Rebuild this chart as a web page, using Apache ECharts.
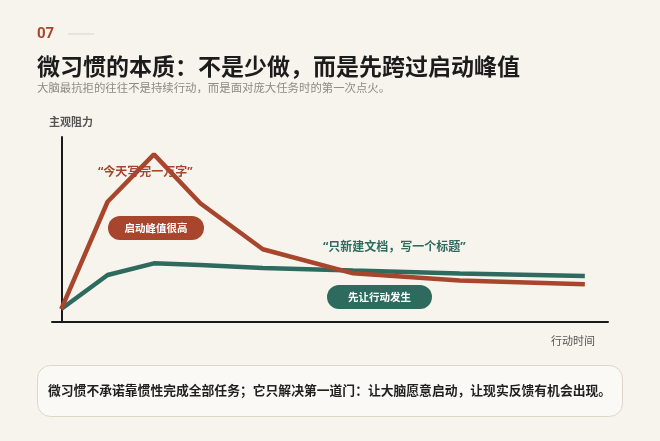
<!DOCTYPE html>
<html>
<head>
<meta charset="utf-8">
<script src="https://cdn.jsdelivr.net/npm/echarts@6/dist/echarts.min.js"></script>
<style>
html,body{margin:0;padding:0;background:#F7F4EE;}
#c{width:660px;height:441px;}
</style>
</head>
<body>
<div id="c"></div>
<script>
// action time positions (value axis)
var timePoints = [0, 1, 2, 3, 4.35, 6.3, 8.6, 11.3];
// subjective resistance: big task
var bigTask = [7, 65, 90.6, 64.2, 39.3, 26.3, 22.4, 20.4];
// subjective resistance: micro habit
var microHabit = [7, 25.4, 31.7, 30.8, 29.2, 27.8, 26.2, 24.9];

var RED = '#A8452D', GREEN = '#2E6A5E';
var CJK = "'Noto Sans CJK SC', 'Noto Sans', sans-serif";
var QUOTE = "'Noto Sans', 'Noto Sans CJK SC', sans-serif";

function pairs(xs, ys){ return xs.map(function(x,i){ return [x, ys[i]]; }); }

var chart = echarts.init(document.getElementById('c'), null, {renderer:'canvas'});
chart.setOption({
  backgroundColor: '#F7F4EE',
  animation: false,
  grid: {left: 52, top: 137, width: 556, height: 185},
  xAxis: {
    type: 'value', min: -0.2, max: 11.8,
    axisLine: {show: true, onZero: false, lineStyle: {color: '#1A1A1A', width: 2}},
    axisTick: {show: false}, axisLabel: {show: false}, splitLine: {show: false}
  },
  yAxis: {
    type: 'value', min: 0, max: 100,
    axisLine: {show: true, lineStyle: {color: '#1A1A1A', width: 2}},
    axisTick: {show: false}, axisLabel: {show: false}, splitLine: {show: false}
  },
  series: [
    {type: 'line', data: pairs(timePoints, microHabit), symbol: 'none', smooth: false,
     lineStyle: {color: GREEN, width: 4.5}, z: 2},
    {type: 'line', data: pairs(timePoints, bigTask), symbol: 'none', smooth: false,
     lineStyle: {color: RED, width: 4.5}, z: 3}
  ],
  graphic: [
    {type: 'text', left: 37, top: 27, style: {text: '07', fill: '#A8452D', font: "bold 15px Roboto, 'Noto Sans', sans-serif"}},
    {type: 'line', shape: {x1: 68, y1: 34, x2: 94, y2: 34}, style: {stroke: '#D9D3C8', lineWidth: 1}},
    {type: 'text', x: 37, y: 66, style: {text: '微习惯的本质：不是少做，而是先跨过启动峰值', fill: '#1C1C1C', font: "bold 23px " + CJK, textVerticalAlign: 'middle'}},
    {type: 'text', x: 37, y: 88, style: {text: '大脑最抗拒的往往不是持续行动，而是面对庞大任务时的第一次点火。', fill: '#8C8A86', font: "11.4px " + CJK, textVerticalAlign: 'middle'}},
    {type: 'text', x: 49, y: 122, style: {text: '主观阻力', fill: '#555555', font: "bold 11px " + CJK, textVerticalAlign: 'middle'}},
    {type: 'text', x: 551, y: 341, style: {text: '行动时间', fill: '#555555', font: "11px " + CJK, textVerticalAlign: 'middle'}},
    {type: 'text', x: 98, y: 172.5, style: {text: '“今天写完一万字”', fill: RED, font: "bold 12px " + QUOTE, textVerticalAlign: 'middle'}},
    {type: 'text', x: 323, y: 247.5, style: {text: '“只新建文档，写一个标题”', fill: GREEN, font: "bold 12px " + QUOTE, textVerticalAlign: 'middle'}},
    {type: 'rect', shape: {x: 108, y: 216, width: 96, height: 24, r: 12}, style: {fill: RED}},
    {type: 'text', x: 156, y: 228, style: {text: '启动峰值很高', fill: '#FFFFFF', font: "bold 10.5px " + CJK, textAlign: 'center', textVerticalAlign: 'middle'}},
    {type: 'rect', shape: {x: 327, y: 285, width: 105, height: 24, r: 12}, style: {fill: GREEN}},
    {type: 'text', x: 379.5, y: 297, style: {text: '先让行动发生', fill: '#FFFFFF', font: "bold 10.5px " + CJK, textAlign: 'center', textVerticalAlign: 'middle'}},
    {type: 'rect', shape: {x: 37.5, y: 365.5, width: 585, height: 51, r: 13}, style: {fill: '#FBF9F5', stroke: '#DDD5C8', lineWidth: 1}},
    {type: 'text', x: 48, y: 390, style: {text: '微习惯不承诺靠惯性完成全部任务；它只解决第一道门：让大脑愿意启动，让现实反馈有机会出现。', fill: '#1F1F1F', font: "bold 12.8px " + CJK, textVerticalAlign: 'middle'}}
  ]
});
</script>
</body>
</html>
